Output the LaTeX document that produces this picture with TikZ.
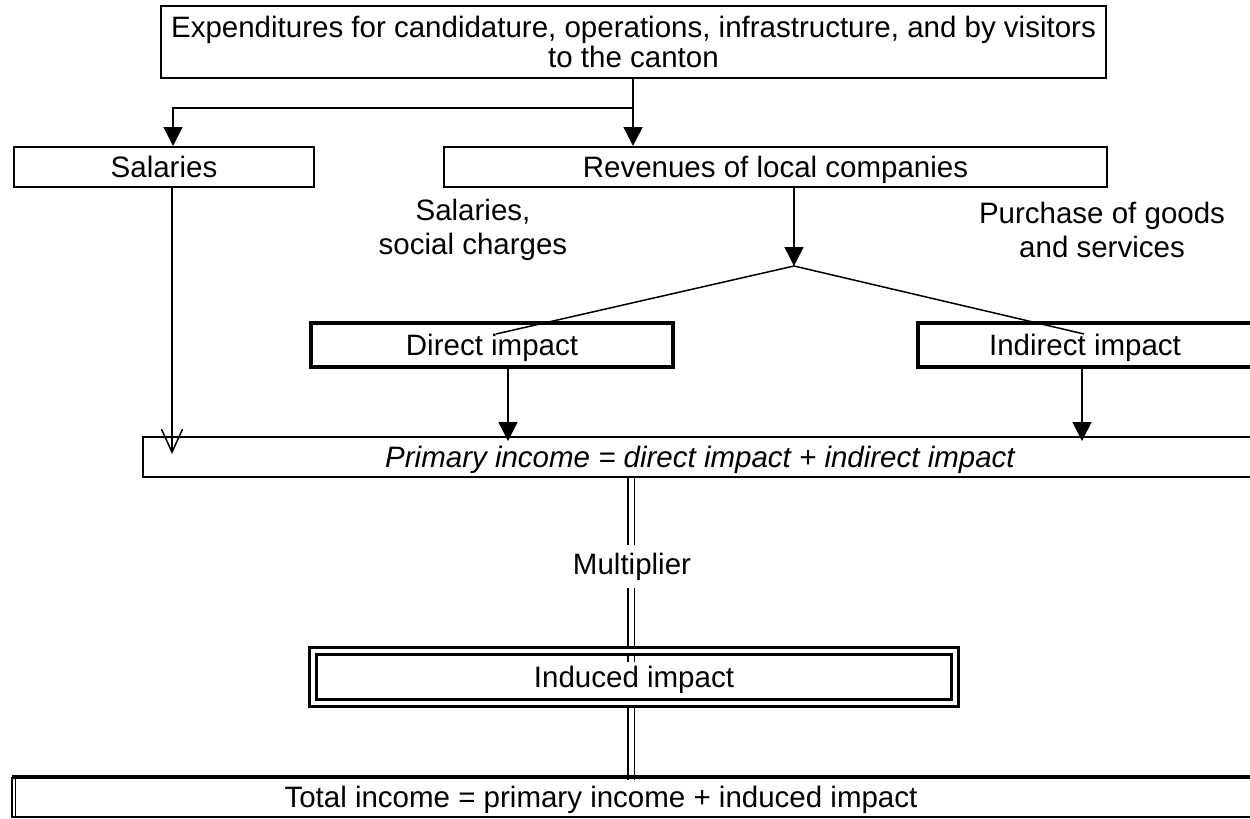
\documentclass[tikz,border=0pt]{standalone}
\usepackage{fontspec}
\setmainfont{Liberation Sans}
\usetikzlibrary{arrows.meta,backgrounds}
\begin{document}
\begin{tikzpicture}[x=1pt,y=-1pt,
  every node/.style={font=\fontsize{29.5}{30}\selectfont, inner sep=0pt},
  oneline/.style={text height=21pt, text depth=0pt},
  box/.style={draw, line width=2pt, minimum height=40pt, oneline},
  heavy/.style={draw, line width=3.5pt, minimum height=44pt, oneline},
  conn/.style={line width=1.5pt},
  arr/.style={conn, -{Triangle[length=19pt,width=19pt]}},
  openarr/.style={conn, -{Straight Barb[length=23pt,width=21pt]}},
  link/.style={draw, line width=1.5pt, double=white, double distance=5pt},
  caption/.style={align=center, font=\fontsize{29.5}{34}\selectfont}]
\useasboundingbox (0,0) rectangle (1250,819);

% boxes
\node[draw, line width=2pt, minimum width=945pt, minimum height=72pt, align=center]
  (top) at (633.5,42) {Expenditures for candidature, operations, infrastructure, and by visitors\\to the canton};
\node[box, minimum width=300pt] (sal) at (164,167) {Salaries};
\node[box, minimum width=663pt] (rev) at (775.5,167) {Revenues of local companies};
\node[caption] (lsal) at (473,230) {Salaries,\\social charges};
\node[caption] (lpur) at (1102,230) {Purchase of goods\\and services};
\node[heavy, minimum width=362pt] (direct) at (492,345) {Direct impact};
\node[heavy, minimum width=334pt] (indirect) at (1085,345) {Indirect impact};
\node[box, minimum width=1114pt, font=\fontsize{29.5}{30}\selectfont\itshape] (primary) at (700,457)
  {Primary income = direct impact + indirect impact};
\node[draw, line width=3pt, double=white, double distance=4pt, minimum width=642pt,
  minimum height=52pt, oneline] (induced) at (634,677) {Induced impact};

% total income: open to the right, heavy top rule and doubled left edge
\node[minimum width=1178pt, minimum height=40pt, oneline] (total) at (601,797)
  {Total income = primary income + induced impact};
\draw[line width=1.5pt] (total.north west) -- (total.south west) -- (total.south west -| 1262,0);
\draw[line width=4pt] (total.north west) -- (total.north west -| 1262,0);
\draw[line width=1.5pt] ([xshift=3.5pt]total.north west) -- ([xshift=3.5pt]total.south west);

% branching from the expenditures
\coordinate (split) at (633,108);
\coordinate (salin) at (173,108);
\draw[conn] (top.south -| split) -- (split);
\draw[arr] (split) -- (split |- rev.north);
\draw[arr] (split) -- (salin) -- (salin |- sal.north);

% revenues split into direct and indirect impact
\coordinate (fork) at (794,266);
\coordinate (dend) at (496,334);
\coordinate (iend) at (1084,334);
\draw[arr] (rev.south -| fork) -- (fork);
\draw[conn] (dend) -- (fork) -- (iend);

% flows into primary income
\coordinate (saldrop) at (172,454);
\coordinate (dtip) at (508,441);
\coordinate (itip) at (1082,441);
\draw[openarr] (sal.south -| saldrop) -- (saldrop);
\draw[arr] (direct.south -| dtip) -- (dtip);
\draw[arr] (indirect.south -| itip) -- (itip);

% multiplier links
\coordinate (mend) at (631,662);
\coordinate (tend) at (631,780);
\begin{pgfonlayer}{background}
  \draw[link] (primary.south -| mend) -- (mend);
  \draw[link] (induced.south -| tend) -- (tend);
\end{pgfonlayer}
\node[fill=white, inner xsep=1pt, minimum height=43pt, text height=21pt, text depth=6pt]
  (mult) at (632,566.5) {Multiplier};
\end{tikzpicture}
\end{document}
